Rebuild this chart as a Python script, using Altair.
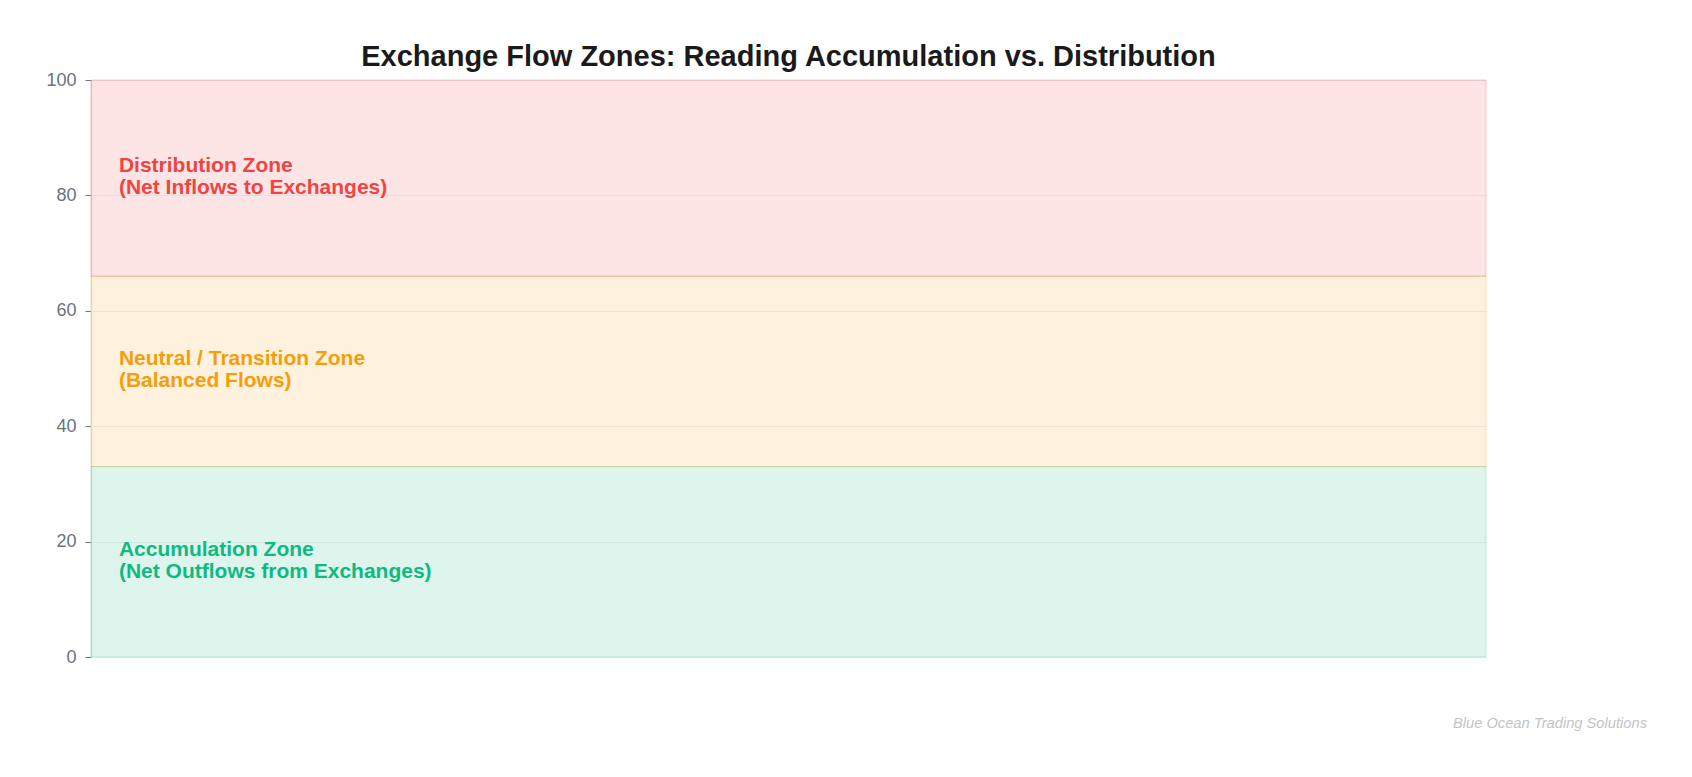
import altair as alt
import pandas as pd

zone_names = ["Accumulation", "Neutral", "Distribution"]
zone_low = [0, 33, 66]
zone_high = [33, 66, 100]
zone_colors = ["#10b981", "#f59e0b", "#ef4444"]
zone_labels = [
    "Accumulation Zone\n(Net Outflows from Exchanges)",
    "Neutral / Transition Zone\n(Balanced Flows)",
    "Distribution Zone\n(Net Inflows to Exchanges)",
]
label_y = [18.6, 51.6, 85.1]
y_ticks = [0, 20, 40, 60, 80, 100]

df = pd.DataFrame({
    "zone": zone_names,
    "y0": zone_low,
    "y1": zone_high,
    "color": zone_colors,
    "label": zone_labels,
    "ly": label_y,
    "x0": [0.0] * 3,
    "x1": [1.0] * 3,
    "lx": [0.02] * 3,
})

FONT = "Liberation Sans"
xs = alt.Scale(domain=[0, 1], nice=False, zero=False)
ys = alt.Scale(domain=[0, 100], nice=False)
color_scale = alt.Scale(domain=zone_names, range=zone_colors)

rects = alt.Chart(df).mark_rect(fillOpacity=0.14, strokeOpacity=0.25, strokeWidth=1).encode(
    x=alt.X("x0:Q", scale=xs, axis=None),
    x2="x1:Q",
    y=alt.Y("y0:Q", scale=ys, title=None,
            axis=alt.Axis(values=y_ticks, grid=True, gridColor="#e5e7eb", gridOpacity=0.6,
                          domainColor="#e5e7eb", domainWidth=1.5, tickColor="#6b7280",
                          tickSize=6, labelColor="#6b7280", labelFontSize=18,
                          labelFont=FONT, labelPadding=9)),
    y2="y1:Q",
    fill=alt.Fill("zone:N", scale=color_scale, legend=None),
    stroke=alt.Stroke("zone:N", scale=color_scale, legend=None),
)

texts = alt.Chart(df).mark_text(
    align="left", baseline="middle", fontSize=21, fontWeight="bold",
    font=FONT, lineBreak="\n", lineHeight=22,
).encode(
    x=alt.X("lx:Q", scale=xs),
    y=alt.Y("ly:Q", scale=ys),
    text="label:N",
    color=alt.Color("zone:N", scale=color_scale, legend=None),
)

wm = alt.Chart(pd.DataFrame({"t": ["Blue Ocean Trading Solutions"]})).mark_text(
    align="right", baseline="alphabetic", fontSize=14.7, fontStyle="italic",
    font=FONT, color="#c4c4c4",
).encode(
    x=alt.value(1556), y=alt.value(648), text="t:N",
)

chart = alt.layer(rects, texts, wm).properties(
    width=1395, height=577,
    title=alt.TitleParams("Exchange Flow Zones: Reading Accumulation vs. Distribution",
                          fontSize=29, font=FONT, fontWeight="bold", color="#1a1a1a",
                          anchor="middle", offset=-1),
    autosize=alt.AutoSizeParams(type="none"),
    padding={"left": 83, "top": 72, "right": 190, "bottom": 100},
).configure_view(stroke=None)

chart.save("out.html", embed_options={"renderer": "svg", "actions": False})
